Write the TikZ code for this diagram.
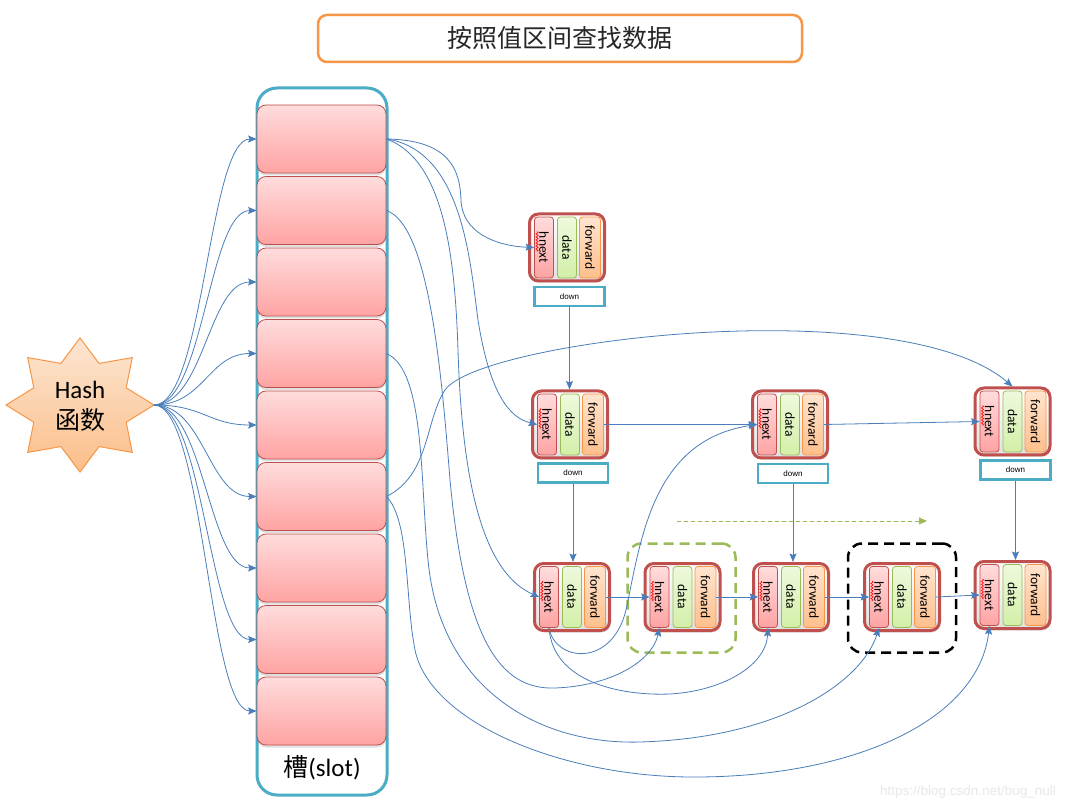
\documentclass[tikz,border=0pt]{standalone}
\usepackage{fontspec}
\setmainfont{Carlito}
\newfontfamily\cjk{Noto Sans CJK SC}
\newfontfamily\arialf{Liberation Sans}
\usetikzlibrary{arrows.meta,calc,decorations.pathmorphing,shadows}
\definecolor{redb}{HTML}{C0504D}
\definecolor{pinktop}{HTML}{FFDCDC}
\definecolor{pinkbot}{HTML}{FFA3A3}
\definecolor{tealb}{HTML}{4BACC6}
\definecolor{orangeb}{HTML}{F79646}
\definecolor{greenb}{HTML}{9BBB59}
\definecolor{arrowblue}{HTML}{4A7EBB}
\definecolor{gtop}{HTML}{EEF9DC}
\definecolor{gbot}{HTML}{D3EFA8}
\definecolor{otop}{HTML}{FFE4CE}
\definecolor{obot}{HTML}{FFBF8C}
\definecolor{startop}{HTML}{FDE6D2}
\definecolor{starbot}{HTML}{FBBE89}
\tikzset{
  conn/.style={draw=arrowblue, line width=0.8pt, -{Stealth[length=8.5pt,width=7pt,inset=1.5pt]}},
  slotbox/.style={draw=redb, line width=0.8pt, rounded corners=9pt, minimum width=129pt, minimum height=68pt,
    top color=pinktop, bottom color=pinkbot, drop shadow={shadow xshift=0pt, shadow yshift=-2.5pt, opacity=0.25}},
  container/.style={draw=tealb, line width=3pt, rounded corners=20pt, minimum width=130pt, minimum height=707pt},
  titlebox/.style={draw=orangeb, line width=2.5pt, rounded corners=9pt, minimum width=484pt, minimum height=47pt,
    font=\cjk\fontsize{25}{30}\selectfont, text=black!85},
  recouter/.style={draw=redb, line width=3pt, rounded corners=9pt, minimum width=75pt, minimum height=67pt,
    top color=white, bottom color=black!12, drop shadow={shadow xshift=1pt, shadow yshift=-2pt, opacity=0.2}},
  boxh/.style={draw=redb, line width=0.8pt, rounded corners=3pt, minimum width=19pt, minimum height=61pt, inner sep=0pt,
    top color=pinktop, bottom color=pinkbot},
  boxd/.style={draw=greenb, line width=0.8pt, rounded corners=3pt, minimum width=19pt, minimum height=61pt, inner sep=0pt,
    top color=gtop, bottom color=gbot},
  boxf/.style={draw=orangeb, line width=0.8pt, rounded corners=3pt, minimum width=21pt, minimum height=61pt, inner sep=0pt,
    top color=otop, bottom color=obot},
  lbl/.style={rotate=-90, font=\fontsize{13.5}{15}\selectfont, inner sep=0pt},
  downbox/.style={draw=tealb, line width=2.5pt, fill=white, minimum width=70pt, minimum height=19pt, inner sep=0pt,
    font=\arialf\fontsize{8}{9}\selectfont},
  squig/.style={draw=red, line width=0.6pt, decorate, decoration={snake, amplitude=1.1pt, segment length=3pt}},
  dashbox/.style={line width=2.5pt, dash pattern=on 10pt off 6pt, rounded corners=14pt, minimum width=108pt, minimum height=109pt},
  starstyle/.style={draw=orangeb, line width=1pt, top color=startop, bottom color=starbot},
}
\newcommand\recnode[3]{%
  \node[recouter] (#1) at (#2,#3) {};
  \node[boxh] (#1-h) at ($(#1)+(-23,0)$) {};
  \node[boxd] (#1-d) at (#1) {};
  \node[boxf] (#1-f) at ($(#1)+(23,0)$) {};
  \node[lbl] (#1-ht) at (#1-h) {hnext};
  \node[lbl] (#1-dt) at (#1-d) {data};
  \node[lbl] (#1-ft) at (#1-f) {forward};
  \draw[squig] ($(#1-h)+(-7,-16)$) -- ($(#1-h)+(-7,4)$);
}
\begin{document}
\begin{tikzpicture}[x=1pt,y=-1pt]
\useasboundingbox (0,0) rectangle (1080,810);
\fill[white] (0,0) rectangle (1080,810);

% title
\node[titlebox] (title) at (560,38.5) {按照值区间查找数据};

% slot container
\node[container] (cont) at (322,441.5) {};
\node[font=\fontsize{25}{30}\selectfont] (slotlbl) at (322,768) {{\cjk 槽}(slot)};
\foreach \i in {1,...,9} {
  \node[slotbox] (s\i) at (321.5,{139+71.5*(\i-1)}) {};
}

% hash star
\draw[starstyle] (154,405) -- (126.2,387.8) -- (132.3,357.6) -- (99.1,363.4) -- (80,338) -- (60.9,363.4)
  -- (27.7,357.6) -- (33.8,387.8) -- (6,405) -- (33.8,422.2) -- (27.7,452.4) -- (60.9,446.6)
  -- (80,472) -- (99.1,446.6) -- (132.3,452.4) -- (126.2,422.2) -- cycle;
\node[align=center, font=\fontsize{25}{31}\selectfont, inner sep=0pt] (hash) at (80,406) {Hash\\{\cjk 函数}};
\coordinate (hashR) at (154,405);
\foreach \i in {1,...,9} {
  \draw[conn] (hashR) .. controls +(50,0) and +(-48,0) .. (s\i.west);
}

% record nodes
\recnode{N0}{567}{247.5}
\recnode{A}{570}{424.5}
\recnode{B}{790}{424.5}
\recnode{C}{1012.5}{421.5}
\recnode{D}{572}{597}
\recnode{E}{682.5}{597}
\recnode{F}{791}{597}
\recnode{G}{902}{597}
\recnode{H}{1012.5}{595}

% down boxes
\node[downbox] (N0dn) at (569.5,296.5) {down};
\node[downbox] (Adn) at (573,473) {down};
\node[downbox] (Bdn) at (793,473.5) {down};
\node[downbox] (Cdn) at (1015.5,470) {down};

% dashed highlight boxes
\node[dashbox, draw=greenb] (gbox) at (681.5,598) {};
\node[dashbox, draw=black] (kbox) at (902,598) {};

% down arrows
\draw[conn] (N0dn.south) -- (N0dn.south |- A.north);
\draw[conn] (Adn.south) -- (Adn.south |- D.north);
\draw[conn] (Bdn.south) -- (Bdn.south |- F.north);
\draw[conn] (Cdn.south) -- (Cdn.south |- H.north);

% forward arrows
\draw[conn] (A-f.east) -- (B-h.west);
\draw[conn] (B-f.east) -- (C-h.west);
\draw[conn] (D-f.east) -- (E-h.west);
\draw[conn] (E-f.east) -- (F-h.west);
\draw[conn] (F-f.east) -- (G-h.west);
\draw[conn] (G-f.east) -- (H-h.west);

% green dashed direction arrow
\coordinate (g1) at (677,521);
\coordinate (g2) at (927,521);
\draw[draw=greenb, line width=0.9pt, dash pattern=on 4pt off 3pt, -{Triangle[length=8pt,width=7pt]}, fill=greenb] (g1) -- (g2);

% slot 1 chains
\draw[conn] (s1.east) .. controls (450,140) and (460,170) .. (461,200) .. controls (462,232) and (495,246) .. (N0-h.west);
\draw[conn] (s1.east) .. controls (462,150) and (470,260) .. (478,320) .. controls (490,395) and (510,418) .. (A-h.west);
\draw[conn] (s1.east) .. controls (445,160) and (455,260) .. (458,350) .. controls (462,480) and (482,572) .. (D-h.west);
% slot 2
\draw[conn] (s2.east) .. controls (430,225) and (442,380) .. (450,480) .. controls (465,640) and (500,690) .. (555,688) .. controls (610,686) and (652,662) .. (E-h.south);
% slot 4
\draw[conn] (s4.east) .. controls (425,370) and (420,480) .. (428,560) .. controls (440,690) and (540,745) .. (640,742) .. controls (780,738) and (862,682) .. (G-h.south);
% slot 6
\draw[conn] (s6.east) .. controls (430,475) and (425,420) .. (445,390) .. controls (480,340) and (900,290) .. (C.north);
\draw[conn] (s6.east) .. controls (410,520) and (405,600) .. (415,650) .. controls (430,722) and (560,776) .. (690,777) .. controls (850,778) and (978,722) .. (H-h.south);
% D hnext chain
\draw[conn] (D-h.south) .. controls (555,662) and (612,668) .. (626,610) .. controls (641,540) and (652,440) .. (B-h.west);
\draw[conn] (D-h.south) .. controls (553,682) and (620,696) .. (670,694) .. controls (722,691) and (766,666) .. (F-h.south);

% watermark
\node[font=\arialf\fontsize{13.5}{15}\selectfont, text=black!9, inner sep=0pt] (wm) at (968,792) {https://blog.csdn.net/bug\_null};
\end{tikzpicture}
\end{document}
